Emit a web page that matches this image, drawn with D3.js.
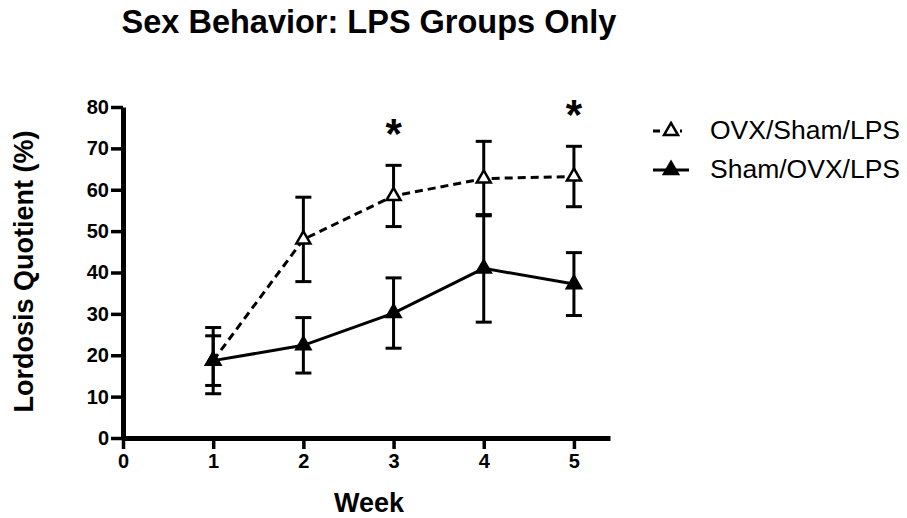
<!DOCTYPE html>
<html>
<head>
<meta charset="utf-8">
<script src="https://cdn.jsdelivr.net/npm/d3@7"></script>
<style>
  body { margin: 0; background: #fff; }
  text { font-family: "Liberation Sans", Arial, sans-serif; fill: #000; }
</style>
</head>
<body>
<div id="root"></div>
<script>
const weeks = [1, 2, 3, 4, 5];
const ovxShamMean = [18.7, 48, 58.5, 62.7, 63.2];
const ovxShamSem = [8, 10.2, 7.4, 9, 7.3];
const shamOvxMean = [18.7, 22.4, 30.2, 41, 37.2];
const shamOvxSem = [6, 6.7, 8.5, 13, 7.6];
const significantWeeks = [3, 5];
const xTicks = [0, 1, 2, 3, 4, 5];
const yTicks = [0, 10, 20, 30, 40, 50, 60, 70, 80];
const seriesNames = ["OVX/Sham/LPS", "Sham/OVX/LPS"];

let width = 907;
let height = 518;

const svg = d3.select("#root")
  .append("svg")
  .attr("width", width)
  .attr("height", height);

const x = d3.scaleLinear().domain([0, 5.4]).range([123, 610]);
const y = d3.scaleLinear().domain([0, 80]).range([438, 107]);

// Title
svg.append("text")
  .text("Sex Behavior: LPS Groups Only")
  .attr("x", 369)
  .attr("y", 33)
  .attr("text-anchor", "middle")
  .style("font-size", "32.5px")
  .style("font-weight", "bold");

// Axes
const xAxis = d3.axisBottom(x).tickValues(xTicks).tickFormat(d3.format("d"))
  .tickSize(11).tickSizeOuter(0).tickPadding(5);
const yAxis = d3.axisLeft(y).tickValues(yTicks).tickFormat(d3.format("d"))
  .tickSize(12).tickSizeOuter(0).tickPadding(2);

const gx = svg.append("g")
  .attr("transform", `translate(0,${y(0)})`)
  .call(xAxis);
const gy = svg.append("g")
  .attr("transform", `translate(${x(0)},0)`)
  .call(yAxis);

[gx, gy].forEach((g) => {
  g.select(".domain").attr("stroke", "#000").attr("stroke-width", 5);
  g.selectAll(".tick line").attr("stroke", "#000").attr("stroke-width", 3.5);
  g.selectAll(".tick text")
    .style("font-size", "20px")
    .style("font-weight", "bold")
    .attr("fill", "#000");
});

// Axis titles
svg.append("text")
  .text("Week")
  .attr("x", 369)
  .attr("y", 512)
  .attr("text-anchor", "middle")
  .style("font-size", "27px")
  .style("font-weight", "bold");

svg.append("text")
  .text("Lordosis Quotient (%)")
  .attr("transform", `translate(33,${(y(0) + y(80)) / 2 - 1}) rotate(-90)`)
  .attr("text-anchor", "middle")
  .style("font-size", "27px")
  .style("font-weight", "bold");

const series = [
  { name: seriesNames[0], mean: ovxShamMean, sem: ovxShamSem, dash: "8,5", fill: "#fff" },
  { name: seriesNames[1], mean: shamOvxMean, sem: shamOvxSem, dash: null, fill: "#000" }
];

const line = d3.line()
  .x((d) => x(d.week))
  .y((d) => y(d.value));

const triangle = d3.symbol().type(d3.symbolTriangle).size(85);

series.forEach((s) => {
  const points = weeks.map((w, i) => ({ week: w, value: s.mean[i], sem: s.sem[i] }));
  const g = svg.append("g");

  // Error bars
  points.forEach((p) => {
    const top = y(p.value + p.sem);
    const bottom = y(p.value - p.sem);
    const cx = x(p.week);
    g.append("line")
      .attr("x1", cx).attr("x2", cx)
      .attr("y1", top).attr("y2", bottom)
      .attr("stroke", "#000").attr("stroke-width", 3);
    [top, bottom].forEach((cy) => {
      g.append("line")
        .attr("x1", cx - 8).attr("x2", cx + 8)
        .attr("y1", cy).attr("y2", cy)
        .attr("stroke", "#000").attr("stroke-width", 3);
    });
  });

  // Line
  g.append("path")
    .datum(points)
    .attr("d", line)
    .attr("fill", "none")
    .attr("stroke", "#000")
    .attr("stroke-width", 3)
    .attr("stroke-dasharray", s.dash);

  // Markers
  g.selectAll("path.marker")
    .data(points)
    .join("path")
    .attr("class", "marker")
    .attr("d", triangle)
    .attr("transform", (d) => `translate(${x(d.week)},${y(d.value)})`)
    .attr("fill", s.fill)
    .attr("stroke", "#000")
    .attr("stroke-width", 2.5);
});

// Significance stars
significantWeeks.forEach((w) => {
  const i = weeks.indexOf(w);
  svg.append("text")
    .text("*")
    .attr("x", x(w))
    .attr("y", y(ovxShamMean[i] + ovxShamSem[i]) - 17)
    .attr("text-anchor", "middle")
    .style("font-size", "42px")
    .style("font-weight", "bold");
});

// Legend
const legend = svg.append("g").attr("id", "legend");
series.forEach((s, i) => {
  const ly = 131 + i * 39;
  legend.append("line")
    .attr("x1", 653).attr("x2", 689)
    .attr("y1", ly).attr("y2", ly)
    .attr("stroke", "#000")
    .attr("stroke-width", 3)
    .attr("stroke-dasharray", s.dash ? "7,9,0,11,2,20" : null);
  legend.append("path")
    .attr("d", triangle)
    .attr("transform", `translate(671,${ly})`)
    .attr("fill", s.fill)
    .attr("stroke", "#000")
    .attr("stroke-width", 2.5);
  legend.append("text")
    .text(s.name)
    .attr("x", 710)
    .attr("y", ly + 8)
    .style("font-size", "26.5px");
});
</script>
</body>
</html>
